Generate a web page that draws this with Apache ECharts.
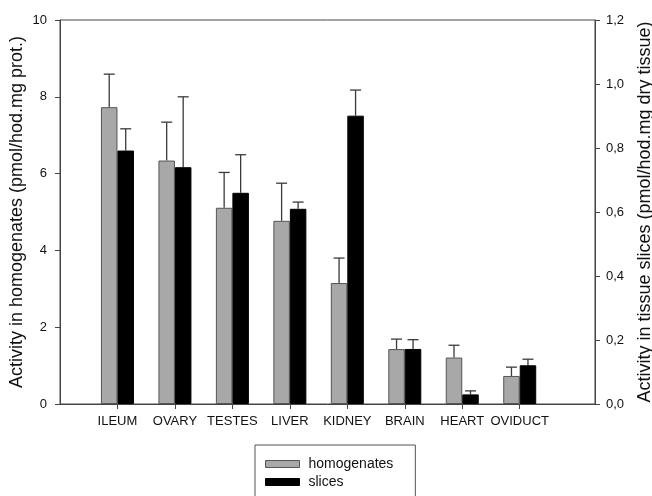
<!DOCTYPE html>
<html>
<head>
<meta charset="utf-8">
<script src="https://cdn.jsdelivr.net/npm/echarts@6/dist/echarts.min.js"></script>
<style>html,body{margin:0;padding:0;background:#fff}#c{width:652px;height:496px}</style>
</head>
<body>
<div id="c"></div>
<script>
var categories = ['ILEUM', 'OVARY', 'TESTES', 'LIVER', 'KIDNEY', 'BRAIN', 'HEART', 'OVIDUCT'];
var homogenates = [7.73, 6.34, 5.11, 4.77, 3.15, 1.43, 1.21, 0.73];
var homogenatesErr = [0.86, 1.00, 0.92, 0.98, 0.65, 0.26, 0.32, 0.23];
var slices = [0.792, 0.740, 0.660, 0.610, 0.901, 0.172, 0.030, 0.121];
var slicesErr = [0.068, 0.220, 0.119, 0.021, 0.080, 0.029, 0.011, 0.019];
var leftTicks = [0, 2, 4, 6, 8, 10];
var rightTicks = [0, 0.2, 0.4, 0.6, 0.8, 1.0, 1.2];

var FONT = '"Liberation Sans", Arial, sans-serif';
var BAR_W = 16.5;
var positions = categories.map(function (c, i) { return i + 1; });

function pairs(vals) { return vals.map(function (v, i) { return [positions[i], v]; }); }
function errPairs(vals, errs) { return vals.map(function (v, i) { return [positions[i], v, v + errs[i]]; }); }

function errRender(shift) {
  return function (params, api) {
    var x = api.value(0);
    var p0 = api.coord([x, api.value(1)]);
    var p1 = api.coord([x, api.value(2)]);
    var cx = p0[0] + shift;
    var st = { stroke: '#3a3a3a', lineWidth: 1.3 };
    return {
      type: 'group',
      children: [
        { type: 'line', shape: { x1: cx, y1: p0[1], x2: cx, y2: p1[1] }, style: st },
        { type: 'line', shape: { x1: cx - 5.5, y1: p1[1], x2: cx + 5.5, y2: p1[1] }, style: st }
      ]
    };
  };
}

var chart = echarts.init(document.getElementById('c'), null, { renderer: 'canvas' });
chart.setOption({
  animation: false,
  backgroundColor: '#fff',
  textStyle: { fontFamily: FONT },
  grid: { left: 60, right: 57, top: 20, bottom: 92, containLabel: false, outerBoundsMode: 'none',
    show: true, borderColor: '#444', borderWidth: 1, backgroundColor: 'transparent' },
  legend: {
    orient: 'vertical',
    left: 255, top: 445,
    height: 80,
    padding: [12, 22, 30, 10],
    borderColor: '#555', borderWidth: 1,
    itemWidth: 34, itemHeight: 7, itemGap: 4,
    textStyle: { fontSize: 14, color: '#111', fontFamily: FONT, padding: [0, 0, 0, 4] },
    data: [
      { name: 'homogenates', icon: 'rect', itemStyle: { color: '#a8a8a8', borderColor: '#555', borderWidth: 1 } },
      { name: 'slices', icon: 'rect', itemStyle: { color: '#000', borderColor: '#000', borderWidth: 1 } }
    ]
  },
  xAxis: {
    type: 'value', min: 0, max: 9.31,
    axisLine: { show: true, lineStyle: { color: '#444', width: 1 } },
    splitLine: { show: false },
    axisTick: { show: true, length: 5, lineStyle: { color: '#444' }, customValues: positions },
    axisLabel: {
      customValues: positions, margin: 11, fontSize: 13, color: '#111', fontFamily: FONT,
      formatter: function (v) { return categories[Math.round(v) - 1] || ''; }
    }
  },
  yAxis: [
    {
      type: 'value', min: leftTicks[0], max: leftTicks[leftTicks.length - 1], interval: 2, position: 'left',
      name: 'Activity in homogenates (pmol/hod.mg prot.)', nameLocation: 'middle', nameGap: 34,
      nameMoveOverlap: false,
      nameTextStyle: { fontSize: 18, color: '#111', fontFamily: FONT },
      axisLine: { show: true, lineStyle: { color: '#444' } },
      axisTick: { show: true, length: 5, lineStyle: { color: '#444' } },
      splitLine: { show: false },
      axisLabel: { fontSize: 13, color: '#111', margin: 13, fontFamily: FONT }
    },
    {
      type: 'value', min: rightTicks[0], max: rightTicks[rightTicks.length - 1], interval: 0.2, position: 'right',
      name: 'Activity in tissue slices (pmol/hod.mg dry tissue)', nameLocation: 'middle', nameGap: 41,
      nameRotate: 90,
      nameTextStyle: { fontSize: 18, color: '#111', fontFamily: FONT },
      axisLine: { show: true, lineStyle: { color: '#444' } },
      axisTick: { show: true, length: 5, lineStyle: { color: '#444' } },
      splitLine: { show: false },
      axisLabel: { fontSize: 13, color: '#111', margin: 11, fontFamily: FONT,
        formatter: function (v) { return v.toFixed(1).replace('.', ','); } }
    }
  ],
  series: [
    {
      name: 'homogenates', type: 'bar', xAxisIndex: 0, yAxisIndex: 0,
      barWidth: BAR_W, barGap: '0%',
      itemStyle: { color: '#a8a8a8', borderColor: '#555', borderWidth: 1 },
      data: pairs(homogenates)
    },
    {
      name: 'slices', type: 'bar', xAxisIndex: 0, yAxisIndex: 1,
      barWidth: BAR_W, barGap: '0%',
      itemStyle: { color: '#000', borderColor: '#000', borderWidth: 1 },
      data: pairs(slices)
    },
    {
      type: 'custom', xAxisIndex: 0, yAxisIndex: 0, z: 1,
      renderItem: errRender(-BAR_W / 2), encode: { x: 0, y: [1, 2] },
      data: errPairs(homogenates, homogenatesErr)
    },
    {
      type: 'custom', xAxisIndex: 0, yAxisIndex: 1, z: 1,
      renderItem: errRender(BAR_W / 2), encode: { x: 0, y: [1, 2] },
      data: errPairs(slices, slicesErr)
    }
  ]
});
</script>
</body>
</html>
